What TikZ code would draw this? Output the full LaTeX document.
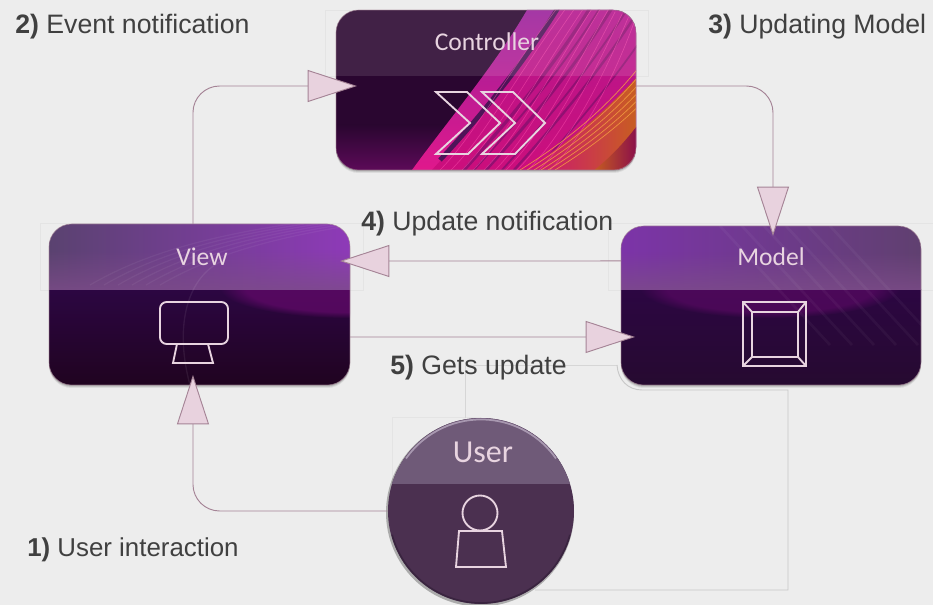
\documentclass[tikz,border=0pt]{standalone}
\usepackage{fontspec}
\setmainfont{Liberation Sans}
\newfontfamily\boxfont{Carlito}
\usetikzlibrary{arrows.meta,calc,fadings}
\definecolor{bgc}{HTML}{EDEDED}
\definecolor{inkc}{HTML}{404040}
\definecolor{pale}{HTML}{E8D4E0}
\definecolor{edgec}{HTML}{A58496}
\definecolor{tipc}{HTML}{E8D2DE}
\definecolor{ghost}{HTML}{C8C8C8}
\definecolor{ghostb}{HTML}{D6D6D6}
\definecolor{faint}{HTML}{E4E4E4}
\newcommand{\hexc}[1]{\definecolor{c#1}{HTML}{#1}}
\hexc{2A0630}\hexc{5C0A58}\hexc{9A209A}\hexc{B4188E}\hexc{E0188C}\hexc{4E1458}\hexc{CC0E7C}\hexc{C8601E}\hexc{86084E}\hexc{FF50B0}\hexc{F5A040}\hexc{8A1070}
\hexc{2C0642}\hexc{200420}\hexc{6A0A70}\hexc{5A4270}\hexc{8E3AB8}\hexc{7C4C88}\hexc{260A30}\hexc{7C34A8}\hexc{604070}\hexc{4B3050}\hexc{6F5A78}\hexc{A898B0}\hexc{2E1C34}
\tikzset{
  panel/.style={minimum width=225pt,minimum height=120pt,inner sep=0pt,outer sep=0pt,rounded corners=17pt},
  rim/.style={draw=edgec,line width=.5pt,rounded corners=17pt,opacity=.7},
  conn/.style={draw=edgec,line width=.7pt,rounded corners=20pt,-{Triangle[length=37pt,width=24pt,fill=tipc]}},
  ghostline/.style={draw=ghost,line width=.7pt},
  faintbox/.style={draw=faint,line width=.5pt},
  icon/.style={draw=pale,line width=1.4pt,line join=miter},
  boxlabel/.style={text=pale,font=\boxfont\fontsize{19.2}{22}\selectfont,inner sep=0pt},
  caption/.style={text=inkc,anchor=west,inner sep=0pt,font=\fontsize{20}{24}\selectfont},
}
\begin{document}
\begin{tikzpicture}[x=.75pt,y=-.75pt]
\useasboundingbox (0,0) rectangle (933,605);
\fill[bgc] (0,0) rectangle (933,605);

% faint leftovers of the header frames
\draw[faintbox] (325,10) rectangle (648,76);
\draw[faintbox] (40,223) rectangle (363,290);
\draw[faintbox] (608,223) rectangle (933,290);
\draw[faintbox] (392,417) rectangle (480,484);

% shadows
\foreach \o/\a in {3/.07,2/.10,1/.14}{
  \fill[black,opacity=\a,rounded corners=17pt] (336,10+\o) rectangle (636,170+\o);
  \fill[black,opacity=\a,rounded corners=17pt] (49,224+\o) rectangle (350,385+\o);
  \fill[black,opacity=\a,rounded corners=17pt] (621,226+\o) rectangle (921,385+\o);
}

% nodes
\node[panel,minimum width=225pt] (ctrl) at (486,90) {};
\node[panel,minimum width=225.75pt,minimum height=120.75pt] (view) at (199.5,304.5) {};
\node[panel,minimum width=225pt,minimum height=119.25pt] (model) at (771,305.5) {};

% controller art
\begin{scope}
\clip[rounded corners=17pt] (ctrl.south west) rectangle (ctrl.north east);
\fill[c2A0630] (336,10) rectangle (636,170);
\shade[top color=c2A0630,bottom color=c5C0A58] (336,125) rectangle (480,170);
% magenta sweep
\shade[top color=c9A209A,bottom color=cE0188C] (412,170) .. controls (450,118) and (495,65) .. (527,10) -- (640,10) -- (640,170) -- cycle;
\shade[top color=cB4188E,bottom color=cCC0E7C] (432,170) .. controls (470,128) and (518,72) .. (558,10) -- (640,10) -- (640,170) -- cycle;
% dark stripes
\draw[c4E1458,line width=3.5pt] (440,160) .. controls (470,128) and (518,72) .. (558,8);
\foreach \d/\w in {12/2.4,22/1.4,34/2.2,50/1.4,62/1.8,84/1.3}{
  \draw[c8A1070,opacity=.85,line width=\w pt] (452+\d,170) .. controls (490+\d,128) and (538+\d,72) .. (578+\d,8);
}
% orange sweep
\shade[left color=cCC0E7C,middle color=cC8601E,right color=cC8601E] (525,170) .. controls (565,145) and (605,112) .. (640,74) -- (640,170) -- cycle;
\shade[left color=cC8601E,right color=c86084E] (592,172) .. controls (610,158) and (625,142) .. (640,122) -- (640,172) -- cycle;
% fine lines
\foreach \d in {0,11,...,110}{
  \draw[cFF50B0,opacity=.5,line width=.45pt] (550-\d,170) .. controls (585-\d,135) and (615-\d,75) .. (635-\d*.6,20-\d*.25);
}
\foreach \d in {0,7,...,35}{
  \draw[cF5A040,opacity=.85,line width=.5pt] (520+\d,170) .. controls (565+\d,142) and (605+\d,110) .. (640+\d,66);
}
\fill[white,opacity=.11] (336,10) rectangle (636,76);
\end{scope}
\draw[rim] (ctrl.south west) rectangle (ctrl.north east);
\draw[icon] (436,92) -- (467,92) -- (500,123) -- (468,154) -- (436,154) -- (470,123) -- cycle;
\draw[icon] (482,92) -- (513,92) -- (545,123) -- (515,154) -- (482,154) -- (515,123) -- cycle;
\node[boxlabel] (ctrlL) at (487,42) {Controller};

% view art
\begin{scope}
\clip[rounded corners=17pt] (view.south west) rectangle (view.north east);
\shade[top color=c2C0642,bottom color=c200420] (49,290) rectangle (350,385);
\fill[c6A0A70,fill opacity=.65,path fading=circle with fuzzy edge 20 percent] (350,288) ellipse (130 and 30);
\shade[left color=c5A4270,right color=c8E3AB8] (49,224) rectangle (350,290);
\fill[c7C4C88,opacity=.8,path fading=north] (49,250) rectangle (350,290);
\foreach \d in {0,14,...,70}{
  \draw[white,opacity=.05,line width=.9pt] (90+\d,285) .. controls (150+\d,250) and (220+\d,235) .. (290+\d,224);
}
\draw[white,opacity=.07,line width=1pt] (190,385) .. controls (175,330) and (185,280) .. (220,262);
\end{scope}
\draw[rim] (view.south west) rectangle (view.north east);
\draw[icon,rounded corners=5pt] (160,302) rectangle (228,344);
\draw[icon] (177,344) -- (173,363) -- (213,363) -- (208,344);
\node[boxlabel] (viewL) at (202,257) {View};

% model art
\begin{scope}
\clip[rounded corners=17pt] (model.south west) rectangle (model.north east);
\shade[top color=c2C0642,bottom color=c260A30] (621,290) rectangle (921,385);
\fill[c6A0A70,fill opacity=.5,path fading=circle with fuzzy edge 20 percent] (770,288) ellipse (130 and 30);
\shade[left color=c7C34A8,right color=c604070] (621,226) rectangle (921,290);
\fill[c7C4C88,opacity=.8,path fading=north] (621,252) rectangle (921,290);
\foreach \d in {0,22,...,110}{
  \draw[white,opacity=.04,line width=2pt] (720+\d,226) -- (830+\d,345);
}
\end{scope}
\draw[rim] (model.south west) rectangle (model.north east);
\draw[icon,line width=1.8pt] (743,302) rectangle (806,366);
\draw[icon] (752,312) rectangle (798,357);
\draw[icon] (743,302) -- (752,312) (806,302) -- (798,312) (743,366) -- (752,357) (806,366) -- (798,357);
\node[boxlabel] (modelL) at (771,257) {Model};

% grey lines behind the user
\draw[ghostline,draw=ghostb] (465,418) -- (465,365) -- (617,365);
\draw[ghostline] (617,365) .. controls (618,380) and (628,390) .. (642,390) -- (788,390) -- (788,590) -- (535,590);

% user
\fill[black,opacity=.28] (480,512.5) circle (94);
\node[circle,minimum size=139.5pt,inner sep=0pt,outer sep=0pt,fill=c4B3050] (user) at (481,511) {};
\begin{scope}
\clip (user) circle (93);
\fill[c6F5A78] (380,410) rectangle (580,484);
\draw[cA898B0,line width=1.3pt] (481,511) ++(215:91.5) arc[start angle=215,end angle=325,radius=91.5];
\draw[c2E1C34,opacity=.6,line width=1.2pt] (481,511) ++(15:92) arc[start angle=15,end angle=165,radius=92];
\end{scope}
\draw[icon] (480,513) circle (17.5);
\draw[icon] (459,531) -- (502,531) -- (506,567) -- (456,567) -- cycle;
\node[boxlabel,font=\boxfont\fontsize{24}{28}\selectfont] (userL) at (483,452) {User};

% connectors
\draw[conn] (user.west) -| ([xshift=-4.9pt,yshift=7.5pt]view.south);
\draw[conn] ([xshift=-4.9pt]view.north) |- ([xshift=15.75pt,yshift=3pt]ctrl.west);
\draw[conn] ([yshift=3pt]ctrl.east) -| ([xshift=1.5pt,yshift=-7.5pt]model.north);
\draw[conn,rounded corners=0pt] ([yshift=33.4pt]model.west) -- ([xshift=-7.5pt,yshift=32.6pt]view.east);
\draw[conn,rounded corners=0pt] ([yshift=-24.4pt]view.east) -- ([xshift=10.5pt,yshift=-23.6pt]model.west);

% captions
\node[caption] (cap2) at (15,27) {\textbf{2)} Event notification};
\node[caption] (cap3) at (708,27) {\textbf{3)} Updating Model};
\node[caption] (cap4) at (361,224) {\textbf{4)} Update notification};
\node[caption] (cap5) at (390,368) {\textbf{5)} Gets update};
\node[caption,font=\fontsize{19.4}{24}\selectfont] (cap1) at (27,550) {\textbf{1)} User interaction};
\end{tikzpicture}
\end{document}
